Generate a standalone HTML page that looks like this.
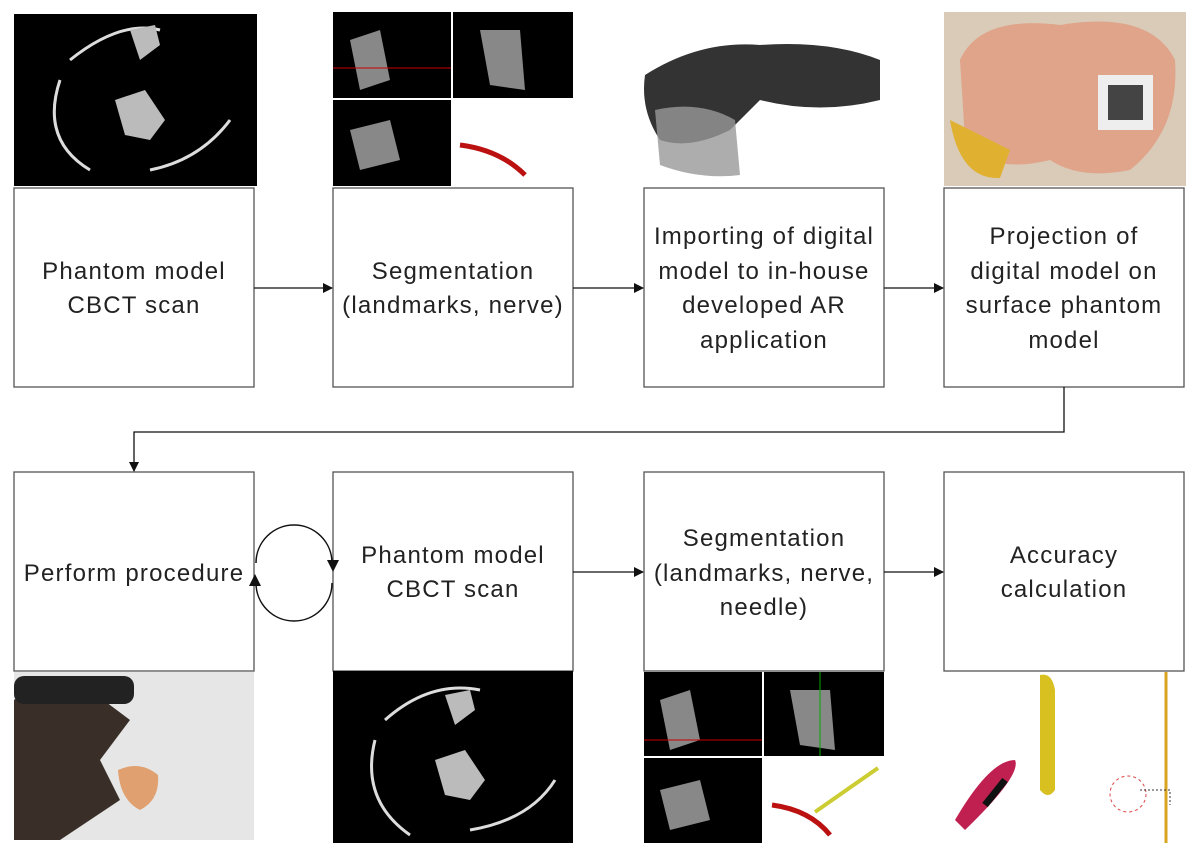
<!DOCTYPE html>
<html><head><meta charset="utf-8"><style>
body{margin:0;background:#fff;}
svg text{font-family:"Liberation Sans",sans-serif;font-size:24px;letter-spacing:1.2px;fill:#222;text-anchor:middle;}
</style></head><body>
<svg width="1200" height="856" viewBox="0 0 1200 856" xmlns="http://www.w3.org/2000/svg">
<defs><marker id="a" markerWidth="10" markerHeight="10" refX="9" refY="5" orient="auto" markerUnits="userSpaceOnUse"><path d="M0,0 L10,5 L0,10z" fill="#111"/></marker></defs>
<rect x="14" y="14" width="243" height="172" fill="#000"/>
<path d="M70,60 Q120,20 160,30 M60,80 Q40,140 90,170 M150,170 Q200,160 230,120" stroke="#ddd" stroke-width="3" fill="none"/>
<path d="M115,100 l30,-10 l20,30 l-15,20 l-25,-5z M130,30 l25,-5 l5,20 l-20,15z" fill="#bbb"/>
<rect x="333" y="12" width="118" height="86" fill="#000"/><rect x="453" y="12" width="120" height="86" fill="#000"/><rect x="333" y="100" width="118" height="86" fill="#000"/>
<path d="M350,40 l30,-10 l10,50 l-30,10z M480,30 l40,0 l5,60 l-35,-5z M350,130 l40,-10 l10,40 l-40,10z" fill="#888"/>
<line x1="333" y1="68" x2="451" y2="68" stroke="#c00"/>
<path d="M460,145 Q500,150 525,175" stroke="#b11" stroke-width="5" fill="none"/>
<path d="M645,75 Q700,40 760,45 Q830,40 880,60 L880,100 Q820,115 760,100 L730,130 Q690,150 660,140 Q640,110 645,75z" fill="#333"/>
<path d="M655,110 Q700,100 735,120 L740,175 Q700,180 660,165z" fill="#999" opacity=".8"/>
<rect x="944" y="12" width="242" height="174" fill="#d9cbb8"/>
<path d="M960,60 Q980,15 1060,25 Q1150,10 1175,60 Q1180,130 1130,170 Q1080,180 1050,160 Q990,175 965,140z" fill="#e0a48a"/>
<path d="M950,120 Q960,180 1000,178 L1010,150z" fill="#e0b030"/>
<rect x="1098" y="75" width="55" height="55" fill="#eee"/><rect x="1108" y="85" width="35" height="35" fill="#444"/>
<g fill="#fff" stroke="#555" stroke-width="1.3">
<rect x="14" y="188" width="240" height="199"/><rect x="333" y="188" width="240" height="199"/><rect x="644" y="188" width="240" height="199"/><rect x="944" y="188" width="240" height="199"/>
<rect x="14" y="472" width="240" height="199"/><rect x="333" y="472" width="240" height="199"/><rect x="644" y="472" width="240" height="199"/><rect x="944" y="472" width="240" height="199"/>
</g>
<text x="134" y="279">Phantom model</text><text x="134" y="313">CBCT scan</text>
<text x="453" y="279">Segmentation</text><text x="453" y="313">(landmarks, nerve)</text>
<text x="764" y="244">Importing of digital</text><text x="764" y="279">model to in-house</text><text x="764" y="313">developed AR</text><text x="764" y="348">application</text>
<text x="1064" y="244">Projection of</text><text x="1064" y="279">digital model on</text><text x="1064" y="313">surface phantom</text><text x="1064" y="348">model</text>
<text x="134" y="581">Perform procedure</text>
<text x="453" y="563">Phantom model</text><text x="453" y="597">CBCT scan</text>
<text x="764" y="546">Segmentation</text><text x="764" y="581">(landmarks, nerve,</text><text x="764" y="615">needle)</text>
<text x="1064" y="563">Accuracy</text><text x="1064" y="597">calculation</text>
<g stroke="#111" stroke-width="1.3" fill="none">
<line x1="254" y1="288" x2="332" y2="288" marker-end="url(#a)"/>
<line x1="573" y1="288" x2="643" y2="288" marker-end="url(#a)"/>
<line x1="884" y1="288" x2="943" y2="288" marker-end="url(#a)"/>
<polyline points="1064,387 1064,432 134,432 134,471" marker-end="url(#a)"/>
<line x1="573" y1="572" x2="643" y2="572" marker-end="url(#a)"/>
<line x1="884" y1="572" x2="943" y2="572" marker-end="url(#a)"/>
<path d="M256,563 A38,38 0 0 1 332,563 M332,583 A38,38 0 0 1 256,583" stroke-width="1.5"/>
</g>
<path d="M327,560 L339,560 L333,572z" fill="#111"/><path d="M249,586 L261,586 L255,574z" fill="#111"/>
<rect x="14" y="672" width="240" height="168" fill="#e6e6e6"/>
<path d="M14,700 Q40,680 90,690 L130,720 L100,760 L120,800 L60,840 L14,840z" fill="#3a2f28"/>
<rect x="14" y="676" width="120" height="28" rx="10" fill="#222"/>
<path d="M118,770 Q140,760 158,775 Q160,800 140,810 Q120,800 118,770z" fill="#e0a070"/>
<rect x="333" y="671" width="240" height="172" fill="#000"/>
<path d="M385,720 Q430,680 480,690 M375,740 Q360,800 410,835 M470,830 Q530,820 555,780" stroke="#ddd" stroke-width="3" fill="none"/>
<path d="M435,760 l30,-10 l20,30 l-15,20 l-25,-5z M445,695 l25,-5 l5,20 l-20,15z" fill="#bbb"/>
<rect x="644" y="672" width="118" height="84" fill="#000"/><rect x="764" y="672" width="120" height="84" fill="#000"/><rect x="644" y="758" width="118" height="85" fill="#000"/>
<path d="M660,700 l30,-10 l10,50 l-30,10z M790,690 l40,0 l5,60 l-35,-5z M660,790 l40,-10 l10,40 l-40,10z" fill="#888"/>
<line x1="644" y1="740" x2="762" y2="740" stroke="#c00"/><line x1="820" y1="672" x2="820" y2="756" stroke="#0a0"/>
<path d="M772,805 Q810,810 830,835" stroke="#b11" stroke-width="5" fill="none"/>
<line x1="815" y1="812" x2="878" y2="768" stroke="#cc3" stroke-width="4"/>
<path d="M1040,675 Q1052,672 1055,690 L1055,790 Q1048,800 1040,790z" fill="#d8c020"/>
<path d="M955,820 Q990,760 1015,760 Q1022,775 965,830z" fill="#c02050"/>
<path d="M985,805 L1005,780" stroke="#111" stroke-width="7"/>
<line x1="1166" y1="672" x2="1166" y2="843" stroke="#d9a520" stroke-width="3"/>
<circle cx="1128" cy="794" r="18" fill="none" stroke="#d44" stroke-dasharray="3,3"/>
<path d="M1140,790 h30 v15" stroke="#333" stroke-dasharray="2,2" fill="none"/>
</svg>
</body></html>
